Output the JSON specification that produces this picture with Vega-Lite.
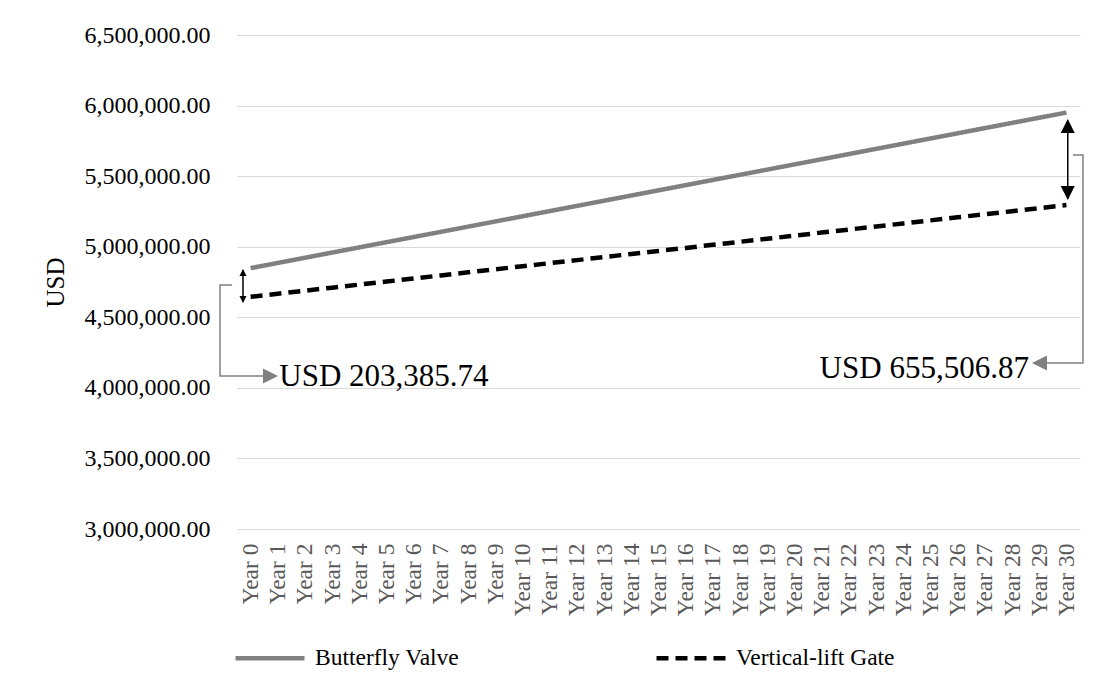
{
  "$schema": "https://vega.github.io/schema/vega-lite/v6.json",
  "width": 843,
  "height": 494,
  "autosize": "none",
  "padding": {"left": 237, "top": 35, "right": 26, "bottom": 161},
  "background": "white",
  "config": {"view": {"stroke": null}, "font": "Liberation Serif"},
  "datasets": {
    "costs": [
      {"year": 0, "series": "Butterfly Valve", "usd": 4848386},
      {"year": 1, "series": "Butterfly Valve", "usd": 4885123},
      {"year": 2, "series": "Butterfly Valve", "usd": 4921861},
      {"year": 3, "series": "Butterfly Valve", "usd": 4958598},
      {"year": 4, "series": "Butterfly Valve", "usd": 4995336},
      {"year": 5, "series": "Butterfly Valve", "usd": 5032073},
      {"year": 6, "series": "Butterfly Valve", "usd": 5068810},
      {"year": 7, "series": "Butterfly Valve", "usd": 5105548},
      {"year": 8, "series": "Butterfly Valve", "usd": 5142285},
      {"year": 9, "series": "Butterfly Valve", "usd": 5179023},
      {"year": 10, "series": "Butterfly Valve", "usd": 5215760},
      {"year": 11, "series": "Butterfly Valve", "usd": 5252497},
      {"year": 12, "series": "Butterfly Valve", "usd": 5289235},
      {"year": 13, "series": "Butterfly Valve", "usd": 5325972},
      {"year": 14, "series": "Butterfly Valve", "usd": 5362710},
      {"year": 15, "series": "Butterfly Valve", "usd": 5399447},
      {"year": 16, "series": "Butterfly Valve", "usd": 5436184},
      {"year": 17, "series": "Butterfly Valve", "usd": 5472922},
      {"year": 18, "series": "Butterfly Valve", "usd": 5509659},
      {"year": 19, "series": "Butterfly Valve", "usd": 5546397},
      {"year": 20, "series": "Butterfly Valve", "usd": 5583134},
      {"year": 21, "series": "Butterfly Valve", "usd": 5619871},
      {"year": 22, "series": "Butterfly Valve", "usd": 5656609},
      {"year": 23, "series": "Butterfly Valve", "usd": 5693346},
      {"year": 24, "series": "Butterfly Valve", "usd": 5730084},
      {"year": 25, "series": "Butterfly Valve", "usd": 5766821},
      {"year": 26, "series": "Butterfly Valve", "usd": 5803558},
      {"year": 27, "series": "Butterfly Valve", "usd": 5840296},
      {"year": 28, "series": "Butterfly Valve", "usd": 5877033},
      {"year": 29, "series": "Butterfly Valve", "usd": 5913771},
      {"year": 30, "series": "Butterfly Valve", "usd": 5950508},
      {"year": 0, "series": "Vertical-lift Gate", "usd": 4645000},
      {"year": 1, "series": "Vertical-lift Gate", "usd": 4666667},
      {"year": 2, "series": "Vertical-lift Gate", "usd": 4688333},
      {"year": 3, "series": "Vertical-lift Gate", "usd": 4710000},
      {"year": 4, "series": "Vertical-lift Gate", "usd": 4731667},
      {"year": 5, "series": "Vertical-lift Gate", "usd": 4753333},
      {"year": 6, "series": "Vertical-lift Gate", "usd": 4775000},
      {"year": 7, "series": "Vertical-lift Gate", "usd": 4796667},
      {"year": 8, "series": "Vertical-lift Gate", "usd": 4818333},
      {"year": 9, "series": "Vertical-lift Gate", "usd": 4840000},
      {"year": 10, "series": "Vertical-lift Gate", "usd": 4861667},
      {"year": 11, "series": "Vertical-lift Gate", "usd": 4883333},
      {"year": 12, "series": "Vertical-lift Gate", "usd": 4905000},
      {"year": 13, "series": "Vertical-lift Gate", "usd": 4926667},
      {"year": 14, "series": "Vertical-lift Gate", "usd": 4948333},
      {"year": 15, "series": "Vertical-lift Gate", "usd": 4970000},
      {"year": 16, "series": "Vertical-lift Gate", "usd": 4991667},
      {"year": 17, "series": "Vertical-lift Gate", "usd": 5013333},
      {"year": 18, "series": "Vertical-lift Gate", "usd": 5035000},
      {"year": 19, "series": "Vertical-lift Gate", "usd": 5056667},
      {"year": 20, "series": "Vertical-lift Gate", "usd": 5078333},
      {"year": 21, "series": "Vertical-lift Gate", "usd": 5100000},
      {"year": 22, "series": "Vertical-lift Gate", "usd": 5121667},
      {"year": 23, "series": "Vertical-lift Gate", "usd": 5143333},
      {"year": 24, "series": "Vertical-lift Gate", "usd": 5165000},
      {"year": 25, "series": "Vertical-lift Gate", "usd": 5186667},
      {"year": 26, "series": "Vertical-lift Gate", "usd": 5208333},
      {"year": 27, "series": "Vertical-lift Gate", "usd": 5230000},
      {"year": 28, "series": "Vertical-lift Gate", "usd": 5251667},
      {"year": 29, "series": "Vertical-lift Gate", "usd": 5273333},
      {"year": 30, "series": "Vertical-lift Gate", "usd": 5295000}
    ],
    "connectors": [
      {"id": "c0", "ord": 1, "year": -0.68, "usd": 4728745},
      {"id": "c0", "ord": 2, "year": -1.125, "usd": 4728745},
      {"id": "c0", "ord": 3, "year": -1.125, "usd": 4084008},
      {"id": "c0", "ord": 4, "year": 0.9, "usd": 4084008},
      {"id": "c30", "ord": 1, "year": 30.24, "usd": 5649800},
      {"id": "c30", "ord": 2, "year": 30.61, "usd": 5649800},
      {"id": "c30", "ord": 3, "year": 30.61, "usd": 4176113},
      {"id": "c30", "ord": 4, "year": 28.85, "usd": 4176113}
    ],
    "spans": [
      {"id": "a0", "year": -0.28, "usd": 4835000, "usd2": 4608000},
      {"id": "a30", "year": 30.05, "usd": 5895000, "usd2": 5340000}
    ],
    "heads": [
      {"id": "a0", "dir": "up", "year": -0.28, "usd": 4842100},
      {"id": "a0", "dir": "down", "year": -0.28, "usd": 4601200},
      {"id": "a30", "dir": "up", "year": 30.05, "usd": 5904860},
      {"id": "a30", "dir": "down", "year": 30.05, "usd": 5331000},
      {"id": "c0", "dir": "right", "year": 1.008, "usd": 4084008},
      {"id": "c30", "dir": "left", "year": 28.734, "usd": 4176113}
    ],
    "notes": [
      {"side": "left", "year": 1.056, "usd": 4013158, "label": "USD 203,385.74"},
      {"side": "right", "year": 28.62, "usd": 4069838, "label": "USD 655,506.87"}
    ]
  },
  "encoding": {
    "x": {
      "field": "year",
      "type": "quantitative",
      "scale": {"domain": [-0.5, 30.5], "nice": false, "zero": false},
      "axis": {
        "values": [0, 1, 2, 3, 4, 5, 6, 7, 8, 9, 10, 11, 12, 13, 14, 15, 16, 17, 18, 19, 20, 21, 22, 23, 24, 25, 26, 27, 28, 29, 30],
        "labelExpr": "'Year ' + datum.value",
        "labelAngle": 270,
        "labelFontSize": 23.5,
        "labelColor": "#595959",
        "labelPadding": 14,
        "labelFont": "Liberation Serif",
        "labelOverlap": false,
        "labelBound": false,
        "labelFlush": false,
        "grid": false,
        "ticks": false,
        "domain": false,
        "title": null
      }
    },
    "y": {
      "field": "usd",
      "type": "quantitative",
      "scale": {"domain": [3000000, 6500000], "nice": false, "zero": false},
      "axis": {
        "values": [3000000, 3500000, 4000000, 4500000, 5000000, 5500000, 6000000, 6500000],
        "format": ",.2f",
        "labelFontSize": 24,
        "labelColor": "#000000",
        "labelFont": "Liberation Serif",
        "labelPadding": 27,
        "ticks": false,
        "domain": false,
        "gridColor": "#d9d9d9",
        "gridWidth": 1,
        "title": "USD",
        "titleFont": "Liberation Serif",
        "titleFontSize": 25,
        "titleFontWeight": "normal",
        "titleColor": "#000000",
        "titleX": -169,
        "titleY": 247
      }
    }
  },
  "layer": [
    {
      "data": {"name": "costs"},
      "mark": {"type": "line", "strokeWidth": 4.5},
      "encoding": {
        "color": {
          "field": "series",
          "type": "nominal",
          "scale": {"domain": ["Butterfly Valve", "Vertical-lift Gate"], "range": ["#808080", "#000000"]},
          "legend": {
            "orient": "none",
            "legendX": -4,
            "legendY": 586,
            "direction": "horizontal",
            "title": null,
            "labelFont": "Liberation Serif",
            "labelFontSize": 23.5,
            "labelColor": "#000000",
            "symbolType": "stroke",
            "symbolSize": 4761,
            "symbolStrokeWidth": 4.5,
            "labelOffset": 8,
            "columnPadding": 187
          }
        },
        "strokeDash": {
          "field": "series",
          "type": "nominal",
          "scale": {"domain": ["Butterfly Valve", "Vertical-lift Gate"], "range": [[1, 0], [12, 7]]},
          "legend": {
            "orient": "none",
            "legendX": -4,
            "legendY": 586,
            "direction": "horizontal",
            "title": null,
            "labelFont": "Liberation Serif",
            "labelFontSize": 23.5,
            "labelColor": "#000000",
            "symbolType": "stroke",
            "symbolSize": 4761,
            "symbolStrokeWidth": 4.5,
            "labelOffset": 8,
            "columnPadding": 187
          }
        }
      }
    },
    {
      "data": {"name": "connectors"},
      "mark": {"type": "line", "color": "#808080", "strokeWidth": 1.5},
      "encoding": {
        "detail": {"field": "id", "type": "nominal"},
        "order": {"field": "ord", "type": "quantitative"}
      }
    },
    {
      "data": {"name": "spans"},
      "mark": {"type": "rule", "color": "#000000", "strokeWidth": 1.5},
      "encoding": {
        "y2": {"field": "usd2"}
      }
    },
    {
      "data": {"name": "heads"},
      "transform": [{"filter": "datum.id == 'a0'"}],
      "mark": {"type": "point", "filled": true, "color": "#000000", "opacity": 1, "size": 49, "strokeWidth": 0},
      "encoding": {
        "shape": {"field": "dir", "type": "nominal", "scale": {"domain": ["up", "down", "left", "right"], "range": ["M0,0L1,2L-1,2Z", "M0,0L1,-2L-1,-2Z", "M0,0L2,1L2,-1Z", "M0,0L-2,1L-2,-1Z"]}, "legend": null}
      }
    },
    {
      "data": {"name": "heads"},
      "transform": [{"filter": "datum.id == 'a30'"}],
      "mark": {"type": "point", "filled": true, "color": "#000000", "opacity": 1, "size": 196, "strokeWidth": 0},
      "encoding": {
        "shape": {"field": "dir", "type": "nominal", "scale": {"domain": ["up", "down", "left", "right"], "range": ["M0,0L1,2L-1,2Z", "M0,0L1,-2L-1,-2Z", "M0,0L2,1L2,-1Z", "M0,0L-2,1L-2,-1Z"]}, "legend": null}
      }
    },
    {
      "data": {"name": "heads"},
      "transform": [{"filter": "datum.id == 'c0' || datum.id == 'c30'"}],
      "mark": {"type": "point", "filled": true, "color": "#808080", "opacity": 1, "size": 225, "strokeWidth": 0},
      "encoding": {
        "shape": {"field": "dir", "type": "nominal", "scale": {"domain": ["up", "down", "left", "right"], "range": ["M0,0L1,2L-1,2Z", "M0,0L1,-2L-1,-2Z", "M0,0L2,1L2,-1Z", "M0,0L-2,1L-2,-1Z"]}, "legend": null}
      }
    },
    {
      "data": {"name": "notes"},
      "transform": [{"filter": "datum.side == 'left'"}],
      "mark": {"type": "text", "align": "left", "baseline": "alphabetic", "font": "Liberation Serif", "fontSize": 31, "color": "#000000"},
      "encoding": {"text": {"field": "label"}}
    },
    {
      "data": {"name": "notes"},
      "transform": [{"filter": "datum.side == 'right'"}],
      "mark": {"type": "text", "align": "right", "baseline": "alphabetic", "font": "Liberation Serif", "fontSize": 31, "color": "#000000"},
      "encoding": {"text": {"field": "label"}}
    }
  ]
}
